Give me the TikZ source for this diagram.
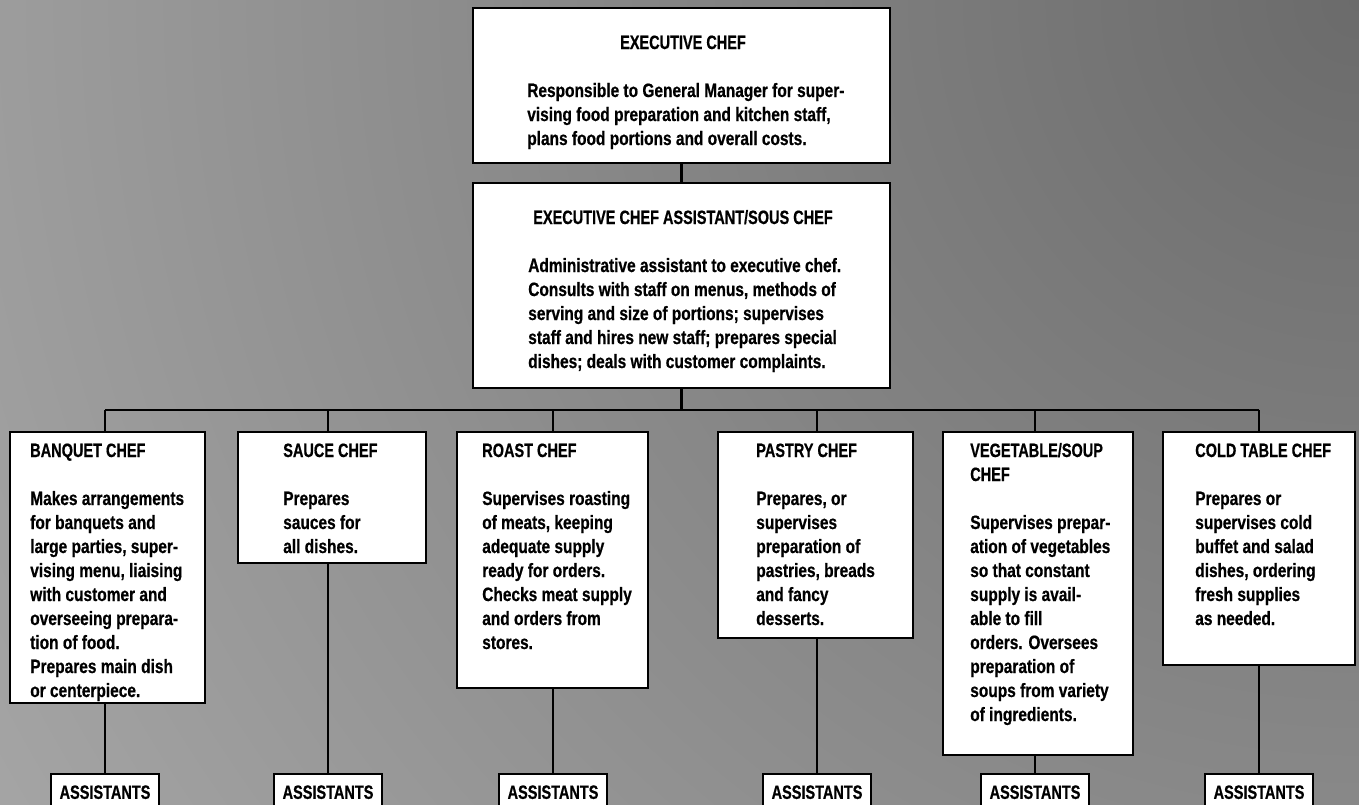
\documentclass[tikz,border=0pt]{standalone}
\usepackage{fontspec}
\newfontfamily\bodyf{Liberation Sans}[FakeStretch=0.80,FakeBold=0.6]
\newfontfamily\titlef{Liberation Sans}[FakeStretch=0.75,FakeBold=0.6]
\usetikzlibrary{fit}
\newcommand\bodyfnt{\bodyf\bfseries\fontsize{14.5}{18}\selectfont}
\newcommand\titlefnt{\titlef\bfseries\fontsize{14.5}{18}\selectfont}
\newcommand\chtitle{\titlef\bfseries}
\newcommand\mylines[1]{\begin{tabular}[t]{@{}l@{}}#1\end{tabular}}
\definecolor{bgLight}{gray}{0.79}
\definecolor{bgDark}{gray}{0.42}
\begin{document}
\begin{tikzpicture}[x=0.75pt,y=-0.75pt,
  box/.style={draw=black, fill=white, line width=1.8pt, inner sep=0pt},
  conn/.style={draw=black, line width=1.8pt},
  txt/.style={inner sep=0pt, anchor=base west, font=\bodyfnt},
  ttl/.style={inner sep=0pt, anchor=base, font=\titlefnt},
  abox/.style={draw=black, fill=white, line width=1.8pt, inner sep=0pt,
    anchor=north, minimum width=81pt, minimum height=27pt, font=\titlefnt}]
\useasboundingbox (0,0) rectangle (1359,804);
\clip (0,0) rectangle (1359,804);
\fill[bgLight] (0,0) rectangle (1359,804);
\shade[inner color=bgDark, outer color=bgLight] (1359,0) circle (1950pt);

% boxes
\node[box, fit={(473,8) (890,163)}] (exec) {};
\node[box, fit={(473,183) (890,388)}] (sous) {};
\node[box, fit={(10,432) (205,703)}] (banq) {};
\node[box, fit={(238,432) (426,563)}] (sauce) {};
\node[box, fit={(457,432) (648,688)}] (roast) {};
\node[box, fit={(718,432) (913,638)}] (pastry) {};
\node[box, fit={(943,432) (1133,755)}] (veg) {};
\node[box, fit={(1163,432) (1355,665)}] (cold) {};

\node[abox] (aBanq) at (105,773) {ASSISTANTS};
\node[abox] (aSauce) at (328,773) {ASSISTANTS};
\node[abox] (aRoast) at (553,773) {ASSISTANTS};
\node[abox] (aPastry) at (817,773) {ASSISTANTS};
\node[abox] (aVeg) at (1035,773) {ASSISTANTS};
\node[abox] (aCold) at (1259,773) {ASSISTANTS};

% connectors
\coordinate (bus) at (683,410);
\draw[conn] (exec.south) -- (sous.north);
\draw[conn] (sous.south) -- (sous.south |- bus);
\draw[conn] (aBanq.north |- bus) -- (aCold.north |- bus);
\foreach \c/\a in {banq/aBanq, sauce/aSauce, roast/aRoast, pastry/aPastry, veg/aVeg, cold/aCold}{
  \draw[conn] (\a.north |- bus) -- (\a.north |- \c.north);
  \draw[conn] (\a.north |- \c.south) -- (\a.north);
}

% texts
\node[ttl] (execT) at (683,49) {EXECUTIVE CHEF};
\node[txt] (execB) at (527,97) {\mylines{Responsible to General Manager for super-\\
vising food preparation and kitchen staff,\\
plans food portions and overall costs.}};
\node[ttl] (sousT) at (683,224) {EXECUTIVE CHEF ASSISTANT/SOUS CHEF};
\node[txt] (sousB) at (528,272) {\mylines{Administrative assistant to executive chef.\\
Consults with staff on menus, methods of\\
serving and size of portions; supervises\\
staff and hires new staff; prepares special\\
dishes; deals with customer complaints.}};

\node[txt] (banqT) at (30,457) {\mylines{\chtitle BANQUET CHEF\\ \\
Makes arrangements\\ for banquets and\\ large parties, super-\\
vising menu, liaising\\ with customer and\\ overseeing prepara-\\
tion of food.\\ Prepares main dish\\ or centerpiece.}};
\node[txt] (sauceT) at (283,457) {\mylines{\chtitle SAUCE CHEF\\ \\
Prepares\\ sauces for\\ all dishes.}};
\node[txt] (roastT) at (482,457) {\mylines{\chtitle ROAST CHEF\\ \\
Supervises roasting\\ of meats, keeping\\ adequate supply\\
ready for orders.\\ Checks meat supply\\ and orders from\\ stores.}};
\node[txt] (pastryT) at (756,457) {\mylines{\chtitle PASTRY CHEF\\ \\
Prepares, or\\ supervises\\ preparation of\\ pastries, breads\\
and fancy\\ desserts.}};
\node[txt] (vegT) at (970,457) {\mylines{\chtitle VEGETABLE/SOUP\\ \chtitle CHEF\\ \\
Supervises prepar-\\ ation of vegetables\\ so that constant\\
supply is avail-\\ able to fill\\ orders. Oversees\\ preparation of\\
soups from variety\\ of ingredients.}};
\node[txt] (coldT) at (1195,457) {\mylines{\chtitle COLD TABLE CHEF\\ \\
Prepares or\\ supervises cold\\ buffet and salad\\ dishes, ordering\\
fresh supplies\\ as needed.}};
\end{tikzpicture}
\end{document}
